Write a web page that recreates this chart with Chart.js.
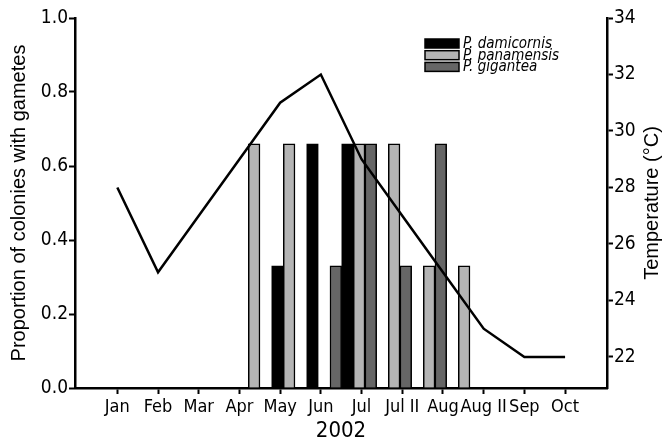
<!DOCTYPE html>
<html>
<head>
<meta charset="utf-8">
<script src="https://cdn.jsdelivr.net/npm/chart.js@4.4.1/dist/chart.umd.min.js"></script>
<style>
html,body{margin:0;padding:0;background:#fff}
#boite{width:665px;height:444px}
</style>
</head>
<body>
<div id="boite"><canvas id="graphe"></canvas></div>
<script>
// mois de la courbe de temperature
var mois = ["Jan","Feb","Mar","Apr","May","Jun","Jul","Jul II","Aug","Aug II","Sep","Oct"]
var temperature = [28,25,27,29,31,32,29,27,25,23,22,22]
// prelevements (barres)
var prelev = ["Apr","May","Jun","Jul","Jul II","Aug","Aug II"]
var damicornis = [null,0.33,0.66,0.66,null,null,null]
var panamensis = [0.66,0.66,null,0.66,0.66,0.33,0.33]
var gigantea = [null,null,0.33,0.66,0.33,0.66,null]
var ticksGauche = [0,0.2,0.4,0.6,0.8,1.0]
var ticksDroite = [22,24,26,28,30,32,34]

var etroit = "'Liberation Sans Narrow','DejaVu Sans Condensed',sans-serif"
var normal = "'Liberation Sans',Arial,sans-serif"

function serie(vals){
	var res = []
	for(var i=0;i<vals.length;i++){
		res.push({x:i, y:vals[i]})
	}
	return res
}
function fixe(liste){
	return function(sc){ sc.ticks = liste.map(v => ({value:v})) }
}
function barres(nom, vals, coul){
	return {type:"bar", label:nom, data:serie(vals), xAxisID:"xb", yAxisID:"y",
		backgroundColor:coul, borderColor:"#000", borderWidth:1.5, order:1,
		categoryPercentage:1, barPercentage:1, barThickness:11.67}
}

var axe = {color:"#000", width:2.5}
var grille = {drawOnChartArea:false, drawTicks:true, tickLength:6, tickWidth:2, tickColor:"#000"}

// legende et titre de droite
var deco = {
	id:"deco",
	afterDraw(chart){
		var ctx = chart.ctx
		var ca = chart.chartArea
		ctx.save()
		var sets = chart.data.datasets.filter(d => d.type=="bar")
		var x0 = 425, y0 = 39
		for(var i=0;i<sets.length;i++){
			var y = y0 + i*11.7
			ctx.fillStyle = sets[i].backgroundColor
			ctx.fillRect(x0, y, 34, 9)
			ctx.strokeStyle = "#000"
			ctx.lineWidth = 1.5
			ctx.strokeRect(x0, y, 34, 9)
			ctx.fillStyle = "#000"
			ctx.font = "italic 15px " + etroit
			ctx.textBaseline = "middle"
			ctx.textAlign = "left"
			ctx.fillText(sets[i].label, x0+38, y+5)
		}
		ctx.translate(652, (ca.top+ca.bottom)/2)
		ctx.rotate(-Math.PI/2)
		ctx.font = "20px " + normal
		ctx.textAlign = "center"
		ctx.textBaseline = "middle"
		ctx.fillText("Temperature (°C)", 0, 0)
		ctx.restore()
	}
}

new Chart("graphe", {
	type: "bar",
	data: {datasets: [
		{type:"line", label:"Temperature", data:serie(temperature), xAxisID:"x", yAxisID:"yT",
			borderColor:"#000", borderWidth:2.5, pointRadius:0, tension:0, fill:false, order:0},
		barres("P. damicornis", damicornis, "#000000"),
		barres("P. panamensis", panamensis, "#b4b4b4"),
		barres("P. gigantea", gigantea, "#666666")
	]},
	options: {
		responsive:true, maintainAspectRatio:false, animation:false, devicePixelRatio:1,
		layout:{padding:{top:18}},
		plugins:{legend:{display:false}, tooltip:{enabled:false}},
		scales:{
			x:{type:"linear", position:"bottom", min:-1.04, max:12.03, offset:false,
				afterBuildTicks:fixe(mois.map((m,i)=>i)),
				afterFit(sc){ sc.height = 56 },
				border:axe, grid:Object.assign({offset:false}, grille),
				ticks:{autoSkip:false, maxRotation:0, minRotation:0, padding:3, color:"#000",
					font:{family:etroit, size:18}, callback:v => mois[v]},
				title:{display:true, text:"2002", color:"#000", padding:{top:0,bottom:0},
					font:{family:etroit, size:22}}},
			xb:{type:"linear", display:false, min:-5.285, max:9.915, offset:false,
				afterBuildTicks:fixe(prelev.map((p,i)=>i))},
			y:{type:"linear", position:"left", min:0, max:1,
				afterBuildTicks:fixe(ticksGauche),
				afterFit(sc){ sc.width = 75 },
				border:axe, grid:grille,
				ticks:{padding:1, color:"#000", font:{family:etroit, size:19}, callback:v => v.toFixed(1)},
				title:{display:true, text:"Proportion of colonies with gametes", color:"#000",
					padding:{top:7,bottom:0}, font:{family:normal, size:20}}},
			yT:{type:"linear", position:"right", min:20.9, max:34,
				afterBuildTicks:fixe(ticksDroite),
				afterFit(sc){ sc.width = 58 },
				border:axe, grid:grille,
				ticks:{padding:1, color:"#000", font:{family:etroit, size:19}},
				title:{display:false}}
		}
	},
	plugins:[deco]
})
</script>
</body>
</html>
